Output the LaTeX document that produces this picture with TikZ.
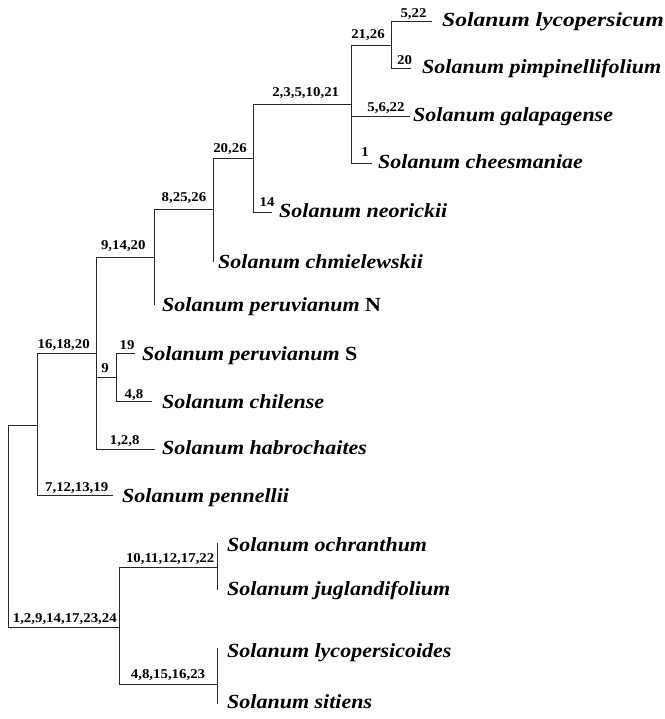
\documentclass[tikz,border=0pt]{standalone}
\usepackage{fontspec}
\setmainfont{Liberation Serif}[FakeStretch=1.1]
\begin{document}
\begin{tikzpicture}[x=1pt,y=-1pt,
  branch/.style={draw=black!85,line width=0.9pt},
  sp/.style={anchor=base west,inner sep=0pt,font=\fontsize{20}{24}\selectfont\bfseries\itshape},
  lab/.style={anchor=base,inner sep=0pt,font=\fontsize{13.5}{16}\selectfont\bfseries}]
\useasboundingbox (0,0) rectangle (664,719);
\fill[white] (0,0) rectangle (664,719);
% internal nodes
\coordinate (R) at (8,627);
\coordinate (A) at (37,425);
\coordinate (B) at (96,353);
\coordinate (C) at (116,377);
\coordinate (D) at (154,257);
\coordinate (E) at (213,209);
\coordinate (F) at (253,158);
\coordinate (G) at (351,104);
\coordinate (H) at (391,45);
\coordinate (I) at (119,627);
\coordinate (J) at (217,567);
\coordinate (K) at (217,684);
% leaf tips
\coordinate (tLyc) at (432,21);
\coordinate (tPim) at (411,68);
\coordinate (tGal) at (410,116);
\coordinate (tChe) at (372,163);
\coordinate (tNeo) at (272,212);
\coordinate (tChm) at (213,262);
\coordinate (tPeN) at (154,305);
\coordinate (tPeS) at (135,353);
\coordinate (tChi) at (152,401);
\coordinate (tHab) at (155,449);
\coordinate (tPen) at (113,495);
\coordinate (tOch) at (217,543);
\coordinate (tJug) at (217,590);
\coordinate (tLyd) at (217,648);
\coordinate (tSit) at (217,704);
% branches
\draw[branch] (R) |- (A);
\draw[branch] (R) |- (I);
\draw[branch] (A) |- (B);
\draw[branch] (A) |- (tPen);
\draw[branch] (B) |- (D);
\draw[branch] (B) |- (C);
\draw[branch] (B) |- (tHab);
\draw[branch] (C) |- (tPeS);
\draw[branch] (C) |- (tChi);
\draw[branch] (D) |- (E);
\draw[branch] (D) |- (tPeN);
\draw[branch] (E) |- (F);
\draw[branch] (E) |- (tChm);
\draw[branch] (F) |- (G);
\draw[branch] (F) |- (tNeo);
\draw[branch] (G) |- (H);
\draw[branch] (G) |- (tGal);
\draw[branch] (G) |- (tChe);
\draw[branch] (H) |- (tLyc);
\draw[branch] (H) |- (tPim);
\draw[branch] (I) |- (J);
\draw[branch] (I) |- (K);
\draw[branch] (J) |- (tOch);
\draw[branch] (J) |- (tJug);
\draw[branch] (K) |- (tLyd);
\draw[branch] (K) |- (tSit);
% species names
\node[sp,xscale=1.07] (nLyc) at (442,27) {Solanum lycopersicum};
\node[sp] (nPim) at (422,74) {Solanum pimpinellifolium};
\node[sp] (nGal) at (413,122) {Solanum galapagense};
\node[sp] (nChe) at (378,169) {Solanum cheesmaniae};
\node[sp] (nNeo) at (279,218) {Solanum neorickii};
\node[sp] (nChm) at (218,268) {Solanum chmielewskii};
\node[sp] (nPeN) at (162,311) {Solanum peruvianum \upshape N};
\node[sp] (nPeS) at (142,360) {Solanum peruvianum \upshape S};
\node[sp] (nChi) at (162,408) {Solanum chilense};
\node[sp] (nHab) at (162,454) {Solanum habrochaites};
\node[sp] (nPen) at (122,502) {Solanum pennellii};
\node[sp] (nOch) at (227,551) {Solanum ochranthum};
\node[sp] (nJug) at (227,595) {Solanum juglandifolium};
\node[sp] (nLyd) at (227,657) {Solanum lycopersicoides};
\node[sp] (nSit) at (227,708) {Solanum sitiens};
% branch labels
\node[lab] (l1) at (413.5,18) {5,22};
\node[lab] (l2) at (404.5,65) {20};
\node[lab] (l3) at (368,39) {21,26};
\node[lab] (l4) at (305.7,97) {2,3,5,10,21};
\node[lab] (l5) at (386,112) {5,6,22};
\node[lab] (l6) at (365,157) {1};
\node[lab] (l7) at (230,153) {20,26};
\node[lab] (l8) at (267,207) {14};
\node[lab] (l9) at (184,202) {8,25,26};
\node[lab] (l10) at (123.3,249) {9,14,20};
\node[lab] (l11) at (63.7,348) {16,18,20};
\node[lab] (l12) at (127,349) {19};
\node[lab] (l13) at (105,372) {9};
\node[lab] (l14) at (134,398) {4,8};
\node[lab] (l15) at (124.7,444) {1,2,8};
\node[lab] (l16) at (76.7,491) {7,12,13,19};
\node[lab] (l17) at (64.8,622) {1,2,9,14,17,23,24};
\node[lab] (l18) at (170.2,562) {10,11,12,17,22};
\node[lab] (l19) at (168,678) {4,8,15,16,23};
\end{tikzpicture}
\end{document}
